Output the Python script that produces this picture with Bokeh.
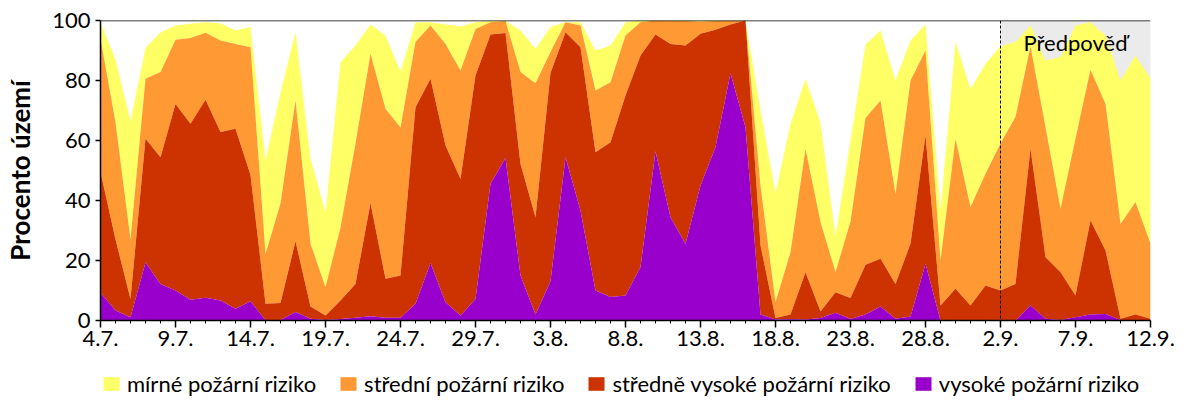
import numpy as np
from bokeh.plotting import figure
from bokeh.layouts import column
from bokeh.models import (Range1d, FixedTicker, Legend, LegendItem, BoxAnnotation,
                          Span, Label)
from bokeh.embed import file_html
from bokeh.resources import INLINE

# den od 4.7. (0) do 12.9. (70)
dny = list(range(71))
popisky_x = ["4.7.", "9.7.", "14.7.", "19.7.", "24.7.", "29.7.", "3.8.", "8.8.",
             "13.8.", "18.8.", "23.8.", "28.8.", "2.9.", "7.9.", "12.9."]
zacatek_predpovedi = 60  # 2.9.

# kumulativni procento uzemi (horni hrana kazde vrstvy)
mirne = [99.4, 87, 66.5, 90.8, 96, 98.3, 98.9, 99.4, 99.1, 96.7,
         97.8, 53.3, 76, 96.1, 54, 36.1, 86.1, 91.7, 98.7, 95,
         83, 99.4, 99.4, 98.7, 98, 99.4, 99.8, 99.8, 96.7, 90.6,
         97.8, 99.4, 99.4, 90, 91.7, 99.4, 100, 100, 100, 100,
         100, 100, 100, 100, 70, 42.5, 65.5, 80.6, 65.8, 28,
         60, 92, 96.7, 80, 93.3, 98.7, 36.7, 92.8, 77.2, 85.6,
         91.4, 92.8, 98.3, 86.7, 87.8, 98.3, 99.4, 95, 80, 88.3,
         80.6]
stredni = [94, 66, 27, 80.6, 82.8, 93.6, 94.2, 95.9, 93.3, 92.2,
           91.1, 22.2, 39, 73.3, 25.6, 11.1, 31, 59, 88.9, 70.6,
           64.3, 92.8, 98.3, 92.2, 83.3, 97.2, 99.4, 99.8, 82.8, 79.1,
           89.5, 99.4, 98.3, 76.7, 79.4, 95, 99.4, 100, 99.8, 99.8,
           99.6, 99.8, 99.9, 100, 45, 6.1, 22.8, 57.2, 32.8, 16.1,
           33, 67.5, 73.3, 42.2, 80, 90, 20, 60.6, 37.8, 48.9,
           59, 67.8, 91.3, 64.3, 37.2, 60.6, 83.6, 72.2, 32.2, 39.4,
           25.6]
stredne_vysoke = [49.5, 27, 7.2, 60.6, 54.4, 72.2, 65.6, 73.6, 62.8, 63.9,
                  48.5, 5.6, 5.8, 26.4, 4.7, 1.7, 6.7, 12.2, 39.2, 13.9,
                  15, 71.1, 80.6, 58.3, 47.2, 81.7, 95.3, 95.8, 52.2, 34.4,
                  82.5, 96.1, 91.1, 56.1, 59.4, 75, 88.3, 95.3, 92.2, 91.7,
                  95.6, 96.9, 98.7, 100, 25, 0.8, 2, 16.1, 3, 9.4,
                  7.5, 18.6, 20.6, 12.2, 25.6, 61.7, 5, 10.6, 5, 11.7,
                  10, 12.2, 57.2, 21.1, 16.1, 8.3, 33.3, 23.3, 0.6, 2,
                  0.6]
vysoke = [9.3, 3.3, 1.1, 19.3, 12.2, 10, 6.9, 7.6, 6.7, 3.9,
          6.4, 0.2, 0.2, 2.8, 0.6, 0.2, 0.5, 0.9, 1.4, 0.9,
          0.9, 5.6, 19.2, 6.1, 1.7, 7.2, 45.6, 54.2, 15, 2,
          13.1, 54.4, 36.7, 10, 7.8, 8.3, 17.8, 56.4, 34.4, 25.6,
          45, 57.8, 82.4, 64.4, 2, 0.3, 0.4, 0.3, 0.8, 2.6,
          0.5, 2, 4.7, 0.6, 1.3, 18.9, 0, 0, 0, 0.2,
          0, 0, 5, 0.6, 0.2, 1.1, 2, 2.2, 0.2, 0,
          0]

nazvy = ["mírné požární riziko", "střední požární riziko",
         "středně vysoké požární riziko", "vysoké požární riziko"]
barvy = ["#FFFF66", "#FF9933", "#CC3300", "#9900CC"]

FONT = "Lato"

p = figure(width=1200, height=360, output_backend="svg", toolbar_location=None,
           x_range=Range1d(0, 70), y_range=Range1d(0, 100),
           min_border_left=100, min_border_right=50, min_border_top=20,
           min_border_bottom=40)
p.outline_line_color = None
p.grid.visible = False
p.background_fill_color = "white"

# oblast predpovedi
p.add_layout(BoxAnnotation(left=zacatek_predpovedi, right=70, fill_color="#EBEBEB",
                           fill_alpha=1, line_color=None, level="underlay"))

vrstvy = [mirne, stredni, stredne_vysoke, vysoke]
for i, horni in enumerate(vrstvy):
    dolni = vrstvy[i + 1] if i + 1 < len(vrstvy) else [0] * len(dny)
    p.varea(x=dny, y1=dolni, y2=horni, fill_color=barvy[i], fill_alpha=1)

p.add_layout(Span(location=zacatek_predpovedi, dimension="height", line_color="black",
                  line_width=1, line_dash="3 2"))
p.add_layout(Span(location=100, dimension="width", line_color="black", line_width=1.5))

p.add_layout(Label(x=65, y=92.8, text="Předpověď", text_align="center",
                   text_baseline="middle", text_font=FONT, text_font_size="22px",
                   text_color="black"))

# osy
p.xaxis.ticker = FixedTicker(ticks=list(range(0, 71, 5)), minor_ticks=dny)
p.xaxis.major_label_overrides = {d: t for d, t in zip(range(0, 71, 5), popisky_x)}
p.yaxis.ticker = FixedTicker(ticks=[0, 20, 40, 60, 80, 100], minor_ticks=[])
for ax in (p.xaxis[0], p.yaxis[0]):
    ax.axis_line_color = "black"
    ax.axis_line_width = 1.5
    ax.major_tick_line_color = "black"
    ax.major_tick_line_width = 1.5
    ax.major_tick_in = 0
    ax.minor_tick_in = 0
    ax.major_label_text_font = FONT
    ax.major_label_text_font_size = "22px"
    ax.major_label_text_color = "black"
p.xaxis.major_tick_out = 7
p.xaxis.minor_tick_out = 3
p.xaxis.minor_tick_line_color = "black"
p.xaxis.major_label_standoff = 3
p.yaxis.major_tick_out = 5
p.yaxis.major_label_standoff = 5
p.yaxis.axis_label = "Procento území"
p.yaxis.axis_label_text_font = FONT
p.yaxis.axis_label_text_font_style = "bold"
p.yaxis.axis_label_text_font_size = "26px"
p.yaxis.axis_label_text_color = "black"
p.yaxis.axis_label_standoff = 13

# legenda ve zvlastnim pasu pod grafem (ramec je zarovnan s grafem nahore)
leg = figure(width=1200, height=40, output_backend="svg", toolbar_location=None,
             x_range=Range1d(0, 1), y_range=Range1d(0, 1),
             min_border_left=0, min_border_right=0, min_border_top=0,
             min_border_bottom=0)
leg.axis.visible = False
leg.grid.visible = False
leg.outline_line_color = None
polozky = []
for nazev, barva in zip(nazvy, barvy):
    # plocha mimo rozsah, jen aby legenda mela znacku
    r = leg.varea(x=[2, 3], y1=[2, 2], y2=[3, 3], fill_color=barva, fill_alpha=1)
    polozky.append(LegendItem(label=nazev, renderers=[r]))
legenda = Legend(items=polozky, orientation="horizontal", location=(1, 3),
                 glyph_width=20, glyph_height=17, label_standoff=6, spacing=22,
                 padding=0, margin=0, border_line_color=None,
                 background_fill_alpha=0, label_text_font=FONT,
                 label_text_font_size="22px", label_text_color="black",
                 label_height=17)
leg.add_layout(legenda)

open("out.html", "w").write(file_html(column(p, leg, spacing=0), INLINE))
